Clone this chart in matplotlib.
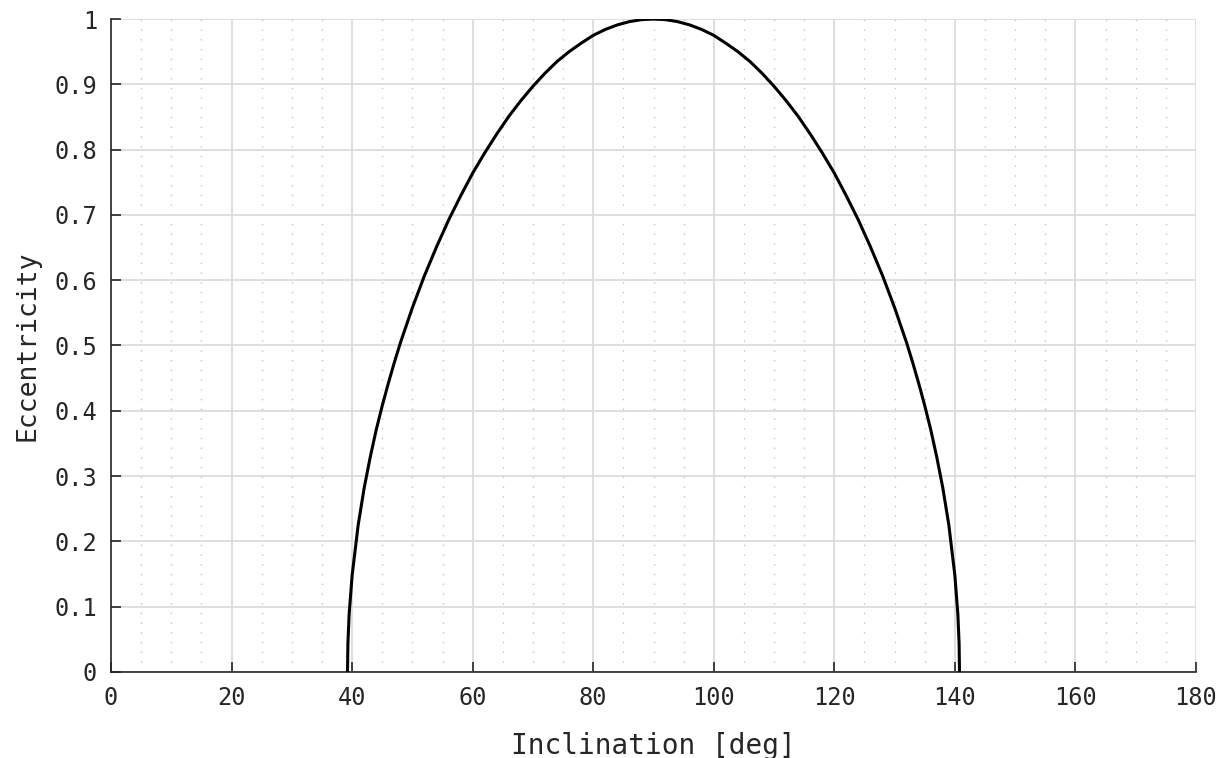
import numpy as np
import matplotlib
matplotlib.use('Agg')
import matplotlib.pyplot as plt
from matplotlib.ticker import MultipleLocator, FuncFormatter

# inclination [deg] and max eccentricity
inclination = [39.23, 39.3, 39.5, 40, 41, 42, 43, 44, 45, 46, 47, 48, 50, 52, 54,
               56, 58, 60, 62, 64, 66, 68, 70, 72, 74, 76, 78, 80, 82, 84, 86,
               88, 90, 92, 94, 96, 98, 100, 102, 104, 106, 108, 110, 112, 114,
               116, 118, 120, 122, 124, 126, 128, 130, 132, 133, 134, 135, 136,
               137, 138, 139, 140, 140.5, 140.7, 140.77]
eccentricity = [0.0, 0.044, 0.088, 0.148, 0.225, 0.282, 0.329, 0.371, 0.408,
                0.442, 0.474, 0.504, 0.558, 0.607, 0.651, 0.692, 0.729, 0.764,
                0.795, 0.824, 0.851, 0.875, 0.897, 0.917, 0.935, 0.950, 0.963,
                0.975, 0.984, 0.991, 0.996, 0.999, 1.0, 0.999, 0.996, 0.991,
                0.984, 0.975, 0.963, 0.950, 0.935, 0.917, 0.897, 0.875, 0.851,
                0.824, 0.795, 0.764, 0.729, 0.692, 0.651, 0.607, 0.558, 0.504,
                0.474, 0.442, 0.408, 0.371, 0.329, 0.282, 0.225, 0.148, 0.088,
                0.044, 0.0]

plt.rcParams['font.family'] = ['DejaVu Sans Mono']

fig = plt.figure(figsize=(12.27, 7.58), dpi=100)
ax = fig.add_axes([0.0905, 0.1135, 0.8842, 0.8614])

ax.plot(inclination, eccentricity, color='black', lw=2.2, zorder=3)

ax.set_xlim(0, 180)
ax.set_ylim(0, 1)
ax.xaxis.set_major_locator(MultipleLocator(20))
ax.xaxis.set_minor_locator(MultipleLocator(5))
ax.yaxis.set_major_locator(MultipleLocator(0.1))
ax.yaxis.set_major_formatter(FuncFormatter(lambda v, p: '%g' % round(v, 2)))

ax.grid(which='major', color='#d9d9d9', lw=1.2)
ax.grid(which='minor', axis='x', color='#c4c4c4', lw=1.0, ls=(0, (1, 6)))
ax.set_axisbelow(True)

for s in ['top', 'right']:
    ax.spines[s].set_visible(False)
for s in ['left', 'bottom']:
    ax.spines[s].set_color('#262626')
    ax.spines[s].set_linewidth(1.2)

ax.tick_params(which='major', direction='in', length=7, width=1.2,
               color='#262626', labelsize=17, labelcolor='#262626', pad=10)
ax.tick_params(which='minor', length=0)

ax.set_xlabel('Inclination [deg]', fontsize=20, color='#262626', labelpad=16)
ax.set_ylabel('Eccentricity', fontsize=19, color='#262626', labelpad=10)

fig.savefig('out.png', dpi=100)
